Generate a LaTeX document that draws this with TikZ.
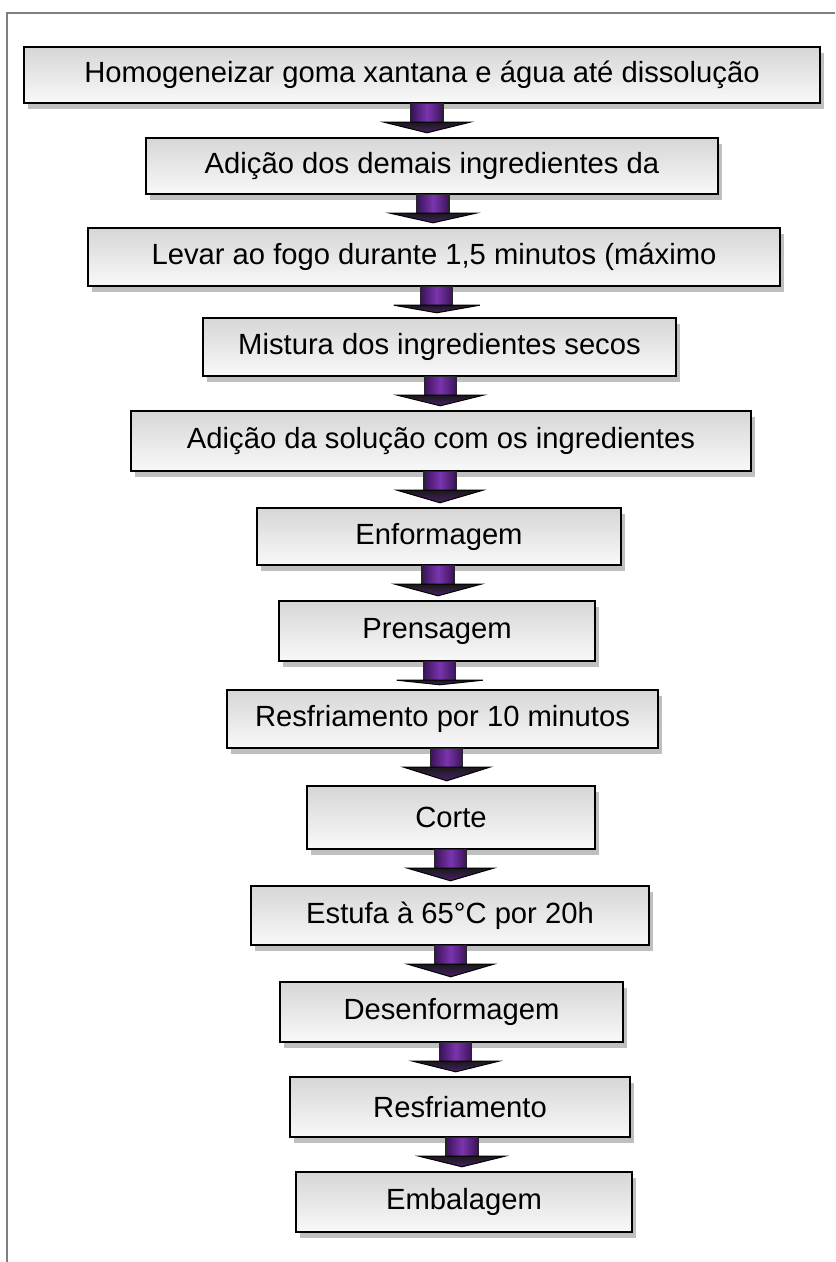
\documentclass[tikz,border=0pt]{standalone}
\usepackage{fontspec}
\setmainfont{Liberation Sans}
\usetikzlibrary{calc,shadows}
\definecolor{arrowpurple}{HTML}{7A35AE}
\definecolor{arrowdark}{HTML}{3A1358}
\definecolor{framegray}{HTML}{7F7F7F}
\begin{document}
\begin{tikzpicture}
    [%%%%%%%%%%%%%%%%%%%%%%%%%%%%%%
        x=0.5pt, y=-0.5pt,
        stepbox/.style={rectangle, draw=black, line width=1.2pt, inner sep=0pt,
            top color=gray!32, bottom color=gray!5,
            font=\fontsize{14.6}{17}\selectfont,
            drop shadow={shadow xshift=2pt, shadow yshift=-3pt, fill=gray!50, opacity=1}},
        shaftbox/.style={draw=black!85, line width=0.6pt,
            left color=arrowdark, right color=arrowdark, middle color=arrowpurple},
        headbox/.style={draw=black, line width=0.5pt,
            top color=black!90, bottom color=arrowpurple!60!black},
    ]%%%%%%%%%%%%%%%%%%%%%%%%%%%%%%

\useasboundingbox (0,0) rectangle (835,1262);
\fill[white] (0,0) rectangle (835,1262);
\draw[framegray, line width=0.8pt] (7,1262) -- (7,13) -- (835,13);

\node[stepbox, minimum width=398pt, minimum height=28pt] (homog) at (422,75) {Homogeneizar goma xantana e água até dissolução};
\node[stepbox, minimum width=286pt, minimum height=28pt] (adicao) at (432,166) {Adição dos demais ingredientes da};
\node[stepbox, minimum width=346pt, minimum height=29pt] (fogo) at (434,257) {Levar ao fogo durante 1,5 minutos (máximo};
\node[stepbox, minimum width=236.5pt, minimum height=29pt] (mistura) at (439.5,347) {Mistura dos ingredientes secos};
\node[stepbox, minimum width=310pt, minimum height=30pt] (solucao) at (441,441) {Adição da solução com os ingredientes};
\node[stepbox, minimum width=182pt, minimum height=28.5pt] (enform) at (439,536.5) {Enformagem};
\node[stepbox, minimum width=158pt, minimum height=30pt] (prensa) at (437,631) {Prensagem};
\node[stepbox, minimum width=215.5pt, minimum height=29pt] (resfr) at (442.5,719) {Resfriamento por 10 minutos};
\node[stepbox, minimum width=144pt, minimum height=31.5pt] (corte) at (451,817.5) {Corte};
\node[stepbox, minimum width=199pt, minimum height=29.5pt] (estufa) at (450,915.5) {Estufa à 65°C por 20h};
\node[stepbox, minimum width=171.5pt, minimum height=30pt] (desenf) at (451.5,1012) {Desenformagem};
\node[stepbox, minimum width=170pt, minimum height=30pt] (resfria) at (460,1107) {Resfriamento};
\node[stepbox, minimum width=168pt, minimum height=30pt] (embal) at (464,1202) {Embalagem};

% block arrows between steps
\foreach \a/\b in {homog/adicao, adicao/fogo, fogo/mistura, mistura/solucao,
    solucao/enform, enform/prensa, prensa/resfr, resfr/corte, corte/estufa,
    estufa/desenf, desenf/resfria, resfria/embal}{
    \coordinate (mid) at ($(\a.south)!0.5!(\b.north)$);
    \coordinate (top) at (\a.south -| mid);
    \coordinate (bot) at (\b.north -| mid);
    \draw[shaftbox] ($(top)+(-16,-1)$) rectangle ($(top)+(16,19)$);
    \draw[headbox] ($(top)+(-43,18)$) -- ($(top)+(43,18)$) -- ($(bot)+(0,-4)$) -- cycle;
}
\end{tikzpicture}
\end{document}
